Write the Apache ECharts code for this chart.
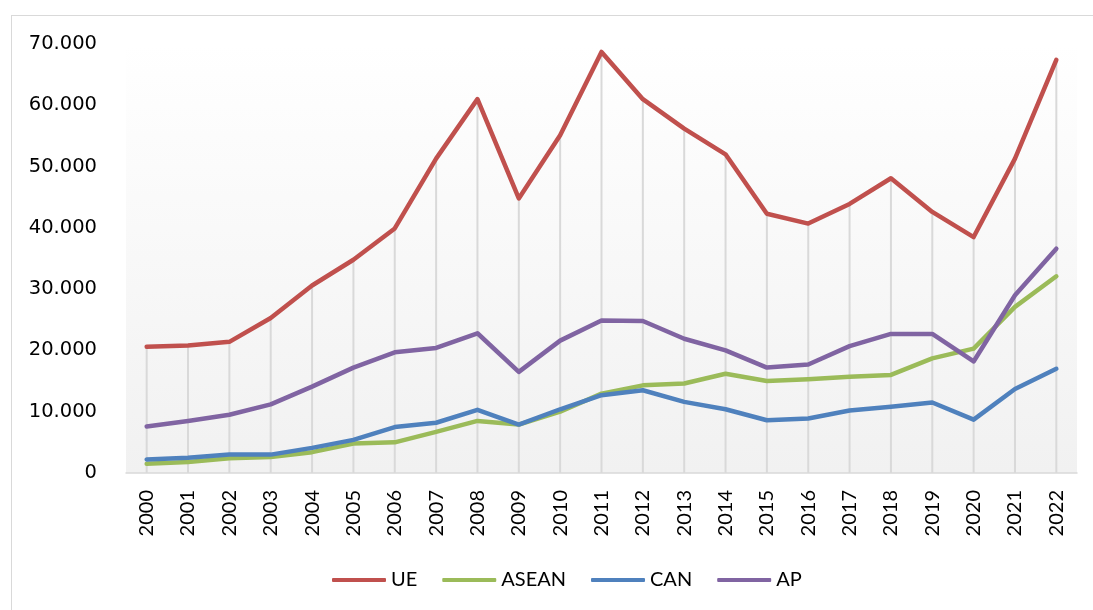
<!DOCTYPE html>
<html>
<head>
<meta charset="utf-8">
<script src="https://cdn.jsdelivr.net/npm/echarts@6/dist/echarts.min.js"></script>
<style>
  html, body { margin: 0; padding: 0; background: #fff; overflow: hidden; }
  #frame { position: absolute; left: 11px; top: 15px; width: 2000px; height: 2000px;
           border-left: 1px solid #d9d9d9; border-top: 1px solid #d9d9d9; }
  #main { position: absolute; left: 0; top: 0; width: 1093px; height: 610px; }
</style>
</head>
<body>
<div id="frame"></div>
<div id="main"></div>
<script>
// anni
var years = ["2000", "2001", "2002", "2003", "2004", "2005", "2006", "2007", "2008", "2009", "2010", "2011",
  "2012", "2013", "2014", "2015", "2016", "2017", "2018", "2019", "2020", "2021", "2022"];

// valori
var ue = [20600, 20800, 21400, 25300, 30600, 34800, 39900, 51300, 61000, 44800, 55100, 68700,
  61000, 56200, 52000, 42300, 40700, 43900, 48100, 42600, 38500, 51300, 67400];
var asean = [1500, 1800, 2400, 2600, 3400, 4800, 5000, 6700, 8500, 7900, 10000, 12950,
  14300, 14600, 16200, 15000, 15300, 15700, 16000, 18700, 20300, 27100, 32100];
var can = [2200, 2500, 3000, 3000, 4100, 5400, 7500, 8200, 10300, 7900, 10400, 12700,
  13500, 11600, 10400, 8600, 8900, 10200, 10800, 11500, 8700, 13700, 17000];
var ap = [7600, 8500, 9500, 11200, 14100, 17200, 19700, 20400, 22800, 16500, 21600, 24900,
  24800, 21900, 20000, 17200, 17700, 20700, 22700, 22700, 18200, 29000, 36600];

var yTicks = [0, 10000, 20000, 30000, 40000, 50000, 60000, 70000];

var labelFont = "Lato, Carlito, 'Open Sans', sans-serif";

function lineSerie(name, data, color) {
  return {
    name: name,
    type: "line",
    data: data,
    showSymbol: false,
    symbol: "none",
    z: 3,
    lineStyle: { color: color, width: 4.5, cap: "round", join: "round" },
    itemStyle: { color: color },
  };
}

function draw() {
  var myChart = echarts.init(document.getElementById("main"));
  var option = {
    animation: false,
    grid: {
      left: 126,
      right: 16,
      top: 44,
      bottom: 137,
      show: true,
      borderWidth: 0,
      backgroundColor: new echarts.graphic.LinearGradient(0, 0, 0, 1, [
        { offset: 0, color: "#ffffff" },
        { offset: 1, color: "#f1f1f1" },
      ]),
    },
    legend: {
      data: ["UE", "ASEAN", "CAN", "AP"],
      left: 327,
      top: 565,
      icon: "roundRect",
      itemWidth: 54,
      itemHeight: 4,
      itemGap: 25,
      textStyle: { fontFamily: labelFont, fontSize: 20, color: "#000" },
    },
    xAxis: {
      type: "category",
      data: years,
      axisLine: { lineStyle: { color: "#d9d9d9", width: 1.5 } },
      axisTick: { show: false },
      axisLabel: {
        rotate: 90,
        margin: 17,
        fontFamily: labelFont,
        fontSize: 20,
        color: "#000",
      },
    },
    yAxis: {
      type: "value",
      min: yTicks[0],
      max: yTicks[yTicks.length - 1],
      interval: 10000,
      axisLine: { show: false },
      axisTick: { show: false },
      splitLine: { show: false },
      axisLabel: {
        margin: 29,
        padding: [4, 0, 0, 0],
        fontFamily: "DejaVu Sans",
        fontSize: 19.5,
        color: "#000",
        formatter: function (v) {
          return String(v).replace(/\B(?=(\d{3})+(?!\d))/g, ".");
        },
      },
    },
    series: [
      {
        // linee verticali dal punto UE all'asse
        name: "drop",
        type: "bar",
        data: ue,
        barWidth: 2,
        silent: true,
        z: 1,
        itemStyle: { color: "#d9d9d9" },
      },
      lineSerie("UE", ue, "#C0504D"),
      lineSerie("ASEAN", asean, "#9BBB59"),
      lineSerie("CAN", can, "#4F81BD"),
      lineSerie("AP", ap, "#8064A2"),
    ],
  };
  myChart.setOption(option);
}

if (document.fonts && document.fonts.load) {
  document.fonts.load("20px Lato").then(draw, draw);
} else {
  draw();
}
</script>
</body>
</html>
